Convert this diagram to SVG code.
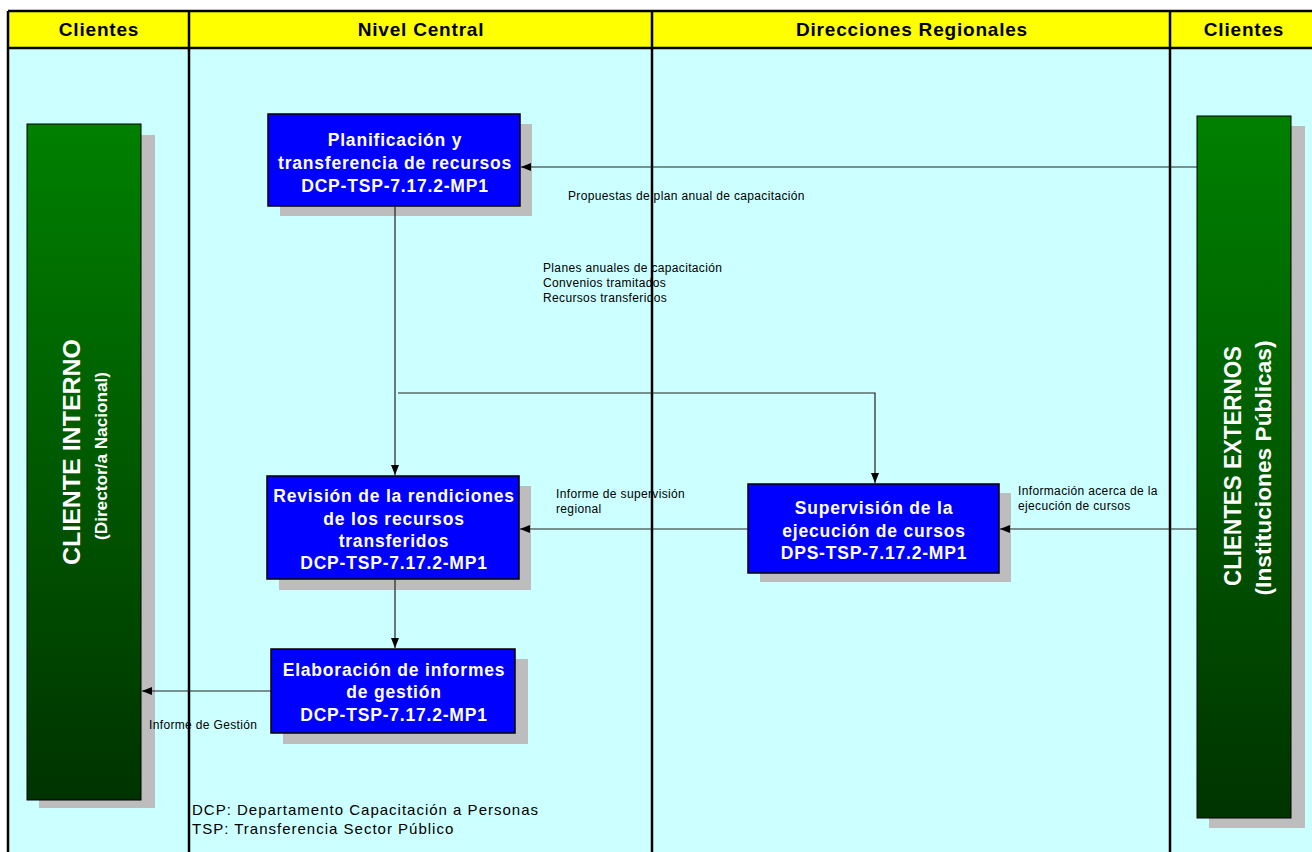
<svg xmlns="http://www.w3.org/2000/svg" width="1312" height="852" viewBox="0 0 1312 852">
<defs>
<linearGradient id="g" x1="0" y1="0" x2="0" y2="1">
<stop offset="0" stop-color="#008000"/>
<stop offset="1" stop-color="#003300"/>
</linearGradient>
<marker id="a" markerWidth="10" markerHeight="8" refX="10" refY="4" orient="auto" markerUnits="userSpaceOnUse">
<path d="M0,0 L10,4 L0,8 z" fill="#000"/>
</marker>
<style>
.hdr{font-family:"Liberation Sans",Arial,sans-serif;font-weight:bold;font-size:19px;letter-spacing:0.8px;fill:#000;text-anchor:middle}
.box{fill:#0000FF;stroke:#000;stroke-width:1.5}
.sh{fill:#BDBDBD}
.bt{font-family:"Liberation Sans",Arial,sans-serif;font-weight:bold;font-size:17.5px;letter-spacing:0.8px;fill:#fff;text-anchor:middle}
.lbl{font-family:"Liberation Sans",Arial,sans-serif;font-size:12px;letter-spacing:0.35px;fill:#000}
.ft{font-family:"Liberation Sans",Arial,sans-serif;font-size:15px;letter-spacing:1px;fill:#000}
.cn{fill:none;stroke:#222;stroke-width:1.2}
.lane{stroke:#000;stroke-width:2.5}
.gt{font-family:"Liberation Sans",Arial,sans-serif;font-weight:bold;fill:#fff;text-anchor:middle}
</style>
</defs>
<rect x="0" y="0" width="1312" height="852" fill="#fff"/>
<g id="lanes">
<rect x="8" y="48" width="1310" height="810" fill="#CCFFFF"/>
<rect x="8" y="11" width="1310" height="37" fill="#FFFF00"/>
<line class="lane" x1="8" y1="11" x2="1312" y2="11"/>
<line class="lane" x1="8" y1="48" x2="1312" y2="48"/>
<line class="lane" x1="8" y1="11" x2="8" y2="852"/>
<line class="lane" x1="189" y1="11" x2="189" y2="852"/>
<line class="lane" x1="652" y1="11" x2="652" y2="852"/>
<line class="lane" x1="1170" y1="11" x2="1170" y2="852"/>
<text class="hdr" x="99" y="36">Clientes</text>
<text class="hdr" x="421" y="36">Nivel Central</text>
<text class="hdr" x="912" y="36">Direcciones Regionales</text>
<text class="hdr" x="1244" y="36">Clientes</text>
</g>
<g id="cliente-interno">
<rect class="sh" x="39" y="135" width="116" height="673"/>
<rect x="27" y="124" width="114" height="676" fill="url(#g)" stroke="#000" stroke-width="1"/>
<text class="gt" transform="translate(80,452) rotate(-90)" font-size="24" textLength="226" lengthAdjust="spacingAndGlyphs">CLIENTE INTERNO</text>
<text class="gt" transform="translate(107,456) rotate(-90)" font-size="16" textLength="168" lengthAdjust="spacingAndGlyphs">(Director/a Nacional)</text>
</g>
<g id="clientes-externos">
<rect class="sh" x="1209" y="126" width="96" height="702"/>
<rect x="1197" y="116" width="94" height="702" fill="url(#g)" stroke="#000" stroke-width="1"/>
<text class="gt" transform="translate(1241,466) rotate(-90)" font-size="24" textLength="240" lengthAdjust="spacingAndGlyphs">CLIENTES EXTERNOS</text>
<text class="gt" transform="translate(1271,468) rotate(-90)" font-size="22" textLength="255" lengthAdjust="spacingAndGlyphs">(Instituciones Públicas)</text>
</g>
<g id="planificacion">
<rect class="sh" x="280" y="124" width="252" height="92"/>
<rect class="box" x="268" y="114" width="252" height="92"/>
<text class="bt" x="395" y="146">Planificación y</text>
<text class="bt" x="395" y="169">transferencia de recursos</text>
<text class="bt" x="395" y="192">DCP-TSP-7.17.2-MP1</text>
</g>
<g id="revision">
<rect class="sh" x="279" y="486" width="252" height="104"/>
<rect class="box" x="267" y="476" width="252" height="103"/>
<text class="bt" x="394" y="502">Revisión de la rendiciones</text>
<text class="bt" x="394" y="525">de los recursos</text>
<text class="bt" x="394" y="547">transferidos</text>
<text class="bt" x="394" y="569">DCP-TSP-7.17.2-MP1</text>
</g>
<g id="elaboracion">
<rect class="sh" x="283" y="659" width="245" height="85"/>
<rect class="box" x="271" y="649" width="244" height="84"/>
<text class="bt" x="394" y="676">Elaboración de informes</text>
<text class="bt" x="394" y="698">de gestión</text>
<text class="bt" x="394" y="721">DCP-TSP-7.17.2-MP1</text>
</g>
<g id="supervision">
<rect class="sh" x="760" y="493" width="251" height="89"/>
<rect class="box" x="748" y="484" width="251" height="89"/>
<text class="bt" x="874" y="514">Supervisión de la</text>
<text class="bt" x="874" y="537">ejecución de cursos</text>
<text class="bt" x="874" y="559">DPS-TSP-7.17.2-MP1</text>
</g>
<g id="connectors">
<line class="cn" x1="1197" y1="167" x2="521" y2="167" marker-end="url(#a)"/>
<line class="cn" x1="395" y1="206" x2="395" y2="475" marker-end="url(#a)"/>
<polyline class="cn" points="398,393 875,393 875,483" marker-end="url(#a)"/>
<line class="cn" x1="748" y1="529" x2="520" y2="529" marker-end="url(#a)"/>
<line class="cn" x1="1197" y1="529" x2="1000" y2="529" marker-end="url(#a)"/>
<line class="cn" x1="395" y1="579" x2="395" y2="648" marker-end="url(#a)"/>
<line class="cn" x1="271" y1="691" x2="142" y2="691" marker-end="url(#a)"/>
<text class="lbl" x="568" y="200">Propuestas  de plan anual de capacitación</text>
<text class="lbl" x="543" y="272">Planes anuales de capacitación</text>
<text class="lbl" x="543" y="287">Convenios tramitados</text>
<text class="lbl" x="543" y="302">Recursos transferidos</text>
<text class="lbl" x="556" y="498">Informe de supervisión</text>
<text class="lbl" x="556" y="513">regional</text>
<text class="lbl" x="1018" y="495">Información  acerca de la</text>
<text class="lbl" x="1018" y="510">ejecución de cursos</text>
<text class="lbl" x="149" y="729">Informe de Gestión</text>
</g>
<g id="legend">
<text class="ft" x="192" y="815">DCP: Departamento Capacitación a Personas</text>
<text class="ft" x="192" y="834">TSP: Transferencia Sector Público</text>
</g>
</svg>
